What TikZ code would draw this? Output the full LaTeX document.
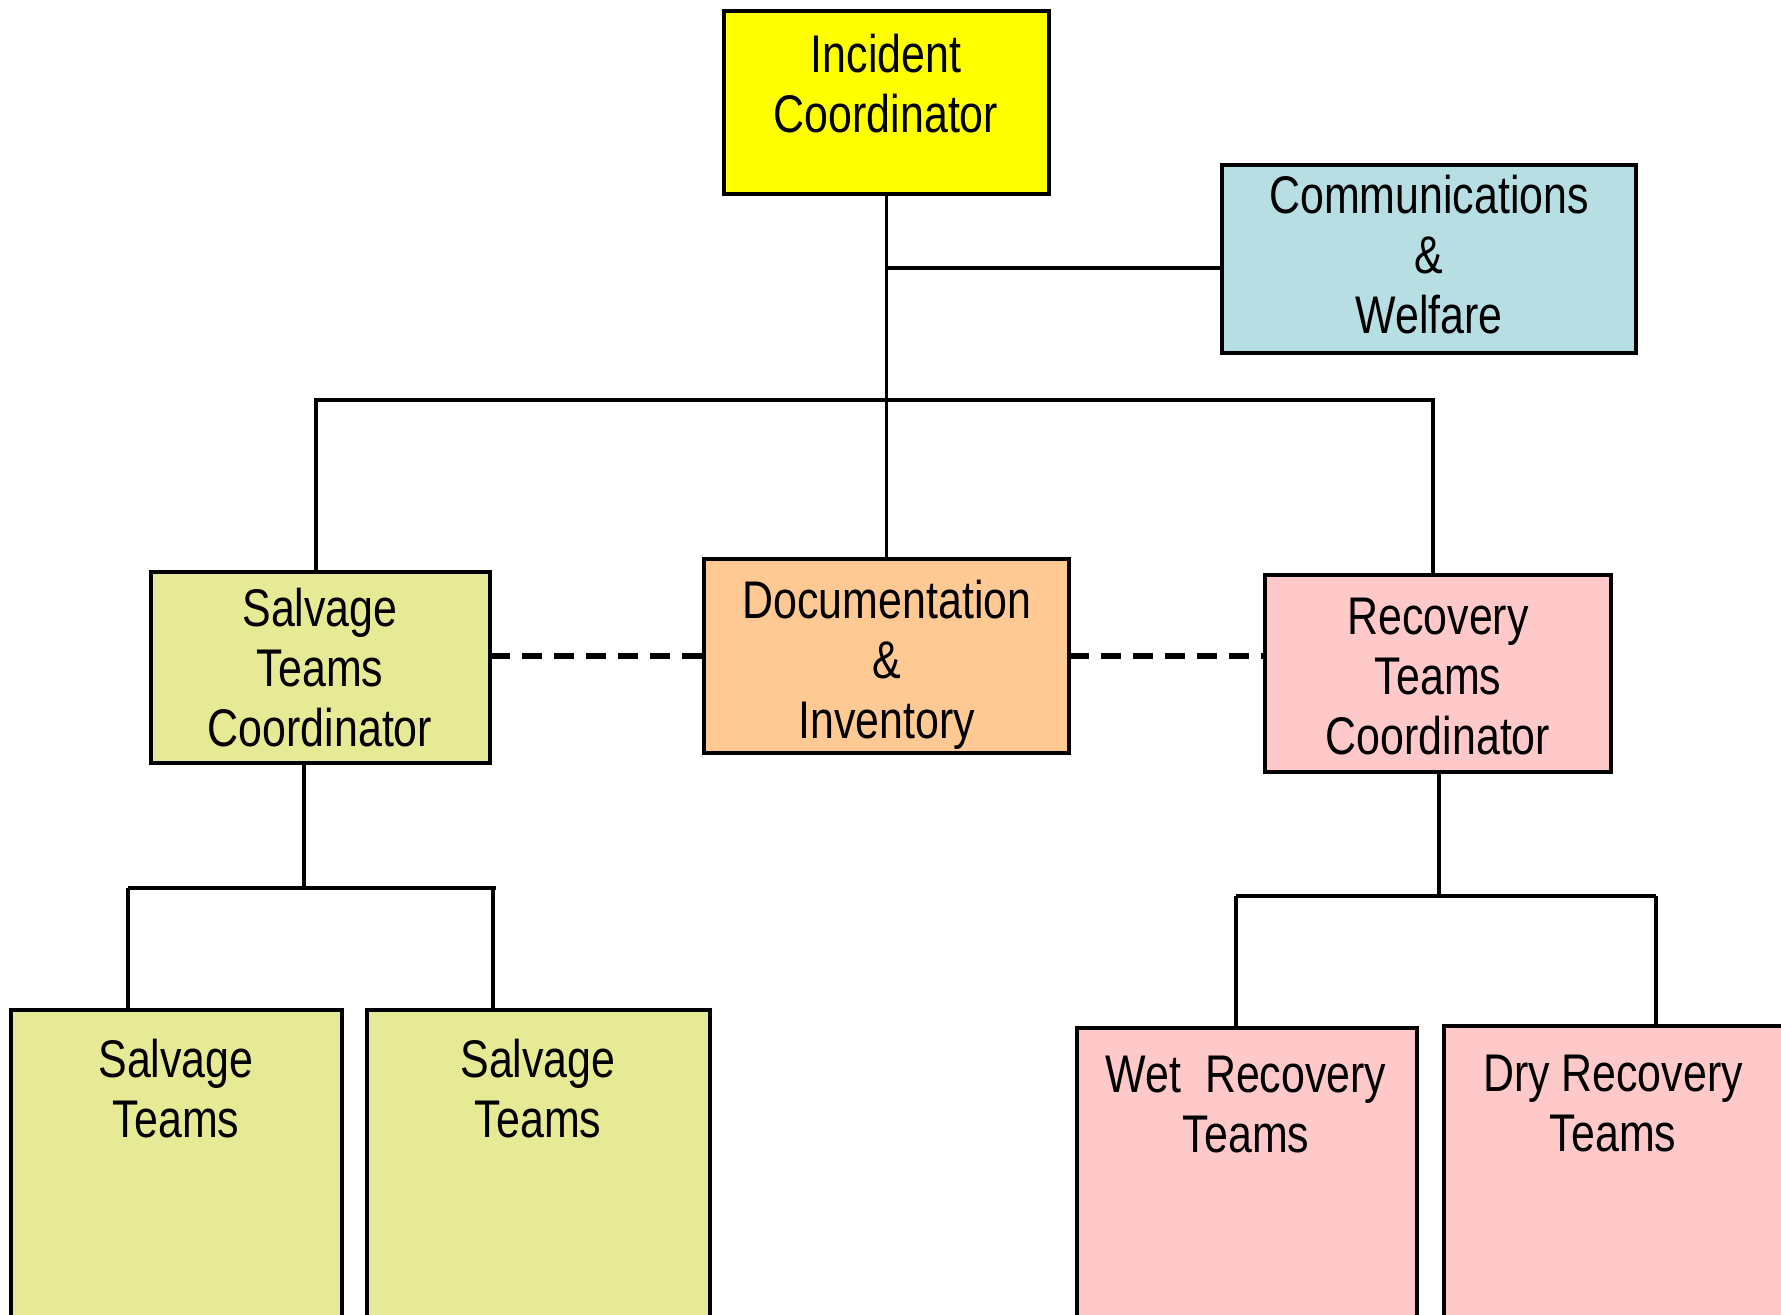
\documentclass[tikz,border=0pt]{standalone}
\usepackage{fontspec}
\setmainfont{Liberation Sans}[FakeStretch=0.81]
\definecolor{incY}{HTML}{FFFF00}
\definecolor{commB}{HTML}{B7DFE3}
\definecolor{salvG}{HTML}{E7EA94}
\definecolor{docO}{HTML}{FFC994}
\definecolor{recP}{HTML}{FFC9C9}
\begin{document}
\begin{tikzpicture}[x=0.5pt,y=-0.5pt,
  box/.style={draw=black, line width=2pt, rectangle, inner sep=0pt, outer sep=0pt},
  txt/.style={align=center, inner sep=0pt, anchor=base, font=\fontsize{26.5}{30}\selectfont},
  conn/.style={line width=1.6pt},
  dashconn/.style={line width=2.8pt, dash pattern=on 10pt off 6pt}]
\clip (0,0) rectangle (1781,1315);
\fill[white] (0,0) rectangle (1781,1315);

% boxes
\node[box, fill=incY,  minimum width=162.5pt, minimum height=91.5pt] (inc)  at (886.5,102.5) {};
\node[box, fill=commB, minimum width=207pt,   minimum height=94pt]   (comm) at (1429,259) {};
\node[box, fill=salvG, minimum width=169.5pt, minimum height=95.5pt] (stc)  at (320.5,667.5) {};
\node[box, fill=docO,  minimum width=182.5pt, minimum height=97pt]   (doc)  at (886.5,656) {};
\node[box, fill=recP,  minimum width=173pt,   minimum height=98.5pt] (rtc)  at (1438,673.5) {};
\node[box, fill=salvG, minimum width=165.5pt, minimum height=160pt]  (st1)  at (176.5,1170) {};
\node[box, fill=salvG, minimum width=171.5pt, minimum height=160pt]  (st2)  at (538.5,1170) {};
\node[box, fill=recP,  minimum width=170pt,   minimum height=151pt]  (wet)  at (1247,1179) {};
\node[box, fill=recP,  minimum width=170.5pt, minimum height=152pt]  (dry)  at (1614.5,1178) {};

% texts (anchored at the baseline of the last line)
\node[txt] (tinc)  at (886,133)   {Incident\\Coordinator};
\node[txt] (tcomm) at (1429,334)  {Communications\\\&\\Welfare};
\node[txt] (tstc)  at (320,746)   {Salvage\\Teams\\Coordinator};
\node[txt] (tdoc)  at (887,738)   {Documentation\\\&\\Inventory};
\node[txt] (trtc)  at (1438,754)  {Recovery\\Teams\\Coordinator};
\node[txt] (tst1)  at (176,1137)  {Salvage\\Teams};
\node[txt] (tst2)  at (538,1137)  {Salvage\\Teams};
\node[txt] (twet)  at (1246,1152) {Wet\ \ Recovery\\Teams};
\node[txt] (tdry)  at (1613,1151) {Dry Recovery\\Teams};

% junction coordinates
\coordinate (cj)   at (886.5,268);
\coordinate (busL) at (316,400);
\coordinate (busR) at (1433,400);
\coordinate (sj)   at (304,888);
\coordinate (sl)   at (128,888);
\coordinate (sr)   at (496,888);
\coordinate (sd)   at (493,888);
\coordinate (rj)   at (1439,896);
\coordinate (rl)   at (1236,896);
\coordinate (rr)   at (1656,896);

% connectors
\draw[conn] (inc.south) -- (doc.north);
\draw[conn] (cj) -- (cj -| comm.west);
\draw[conn] (busL |- stc.north) -- (busL) -- (busR) -- (busR |- rtc.north);
\draw[dashconn] (stc.east |- doc.west) -- (doc.west);
\draw[dashconn] (doc.east) -- (doc.east -| rtc.west);
\draw[conn] (sj |- stc.south) -- (sj);
\draw[conn] (sl) -- (sr);
\draw[conn] (sl) -- (sl |- st1.north);
\draw[conn] (sd) -- (sd |- st2.north);
\draw[conn] (rj |- rtc.south) -- (rj);
\draw[conn] (rl) -- (rr);
\draw[conn] (rl) -- (rl |- wet.north);
\draw[conn] (rr) -- (rr |- dry.north);
\end{tikzpicture}
\end{document}
